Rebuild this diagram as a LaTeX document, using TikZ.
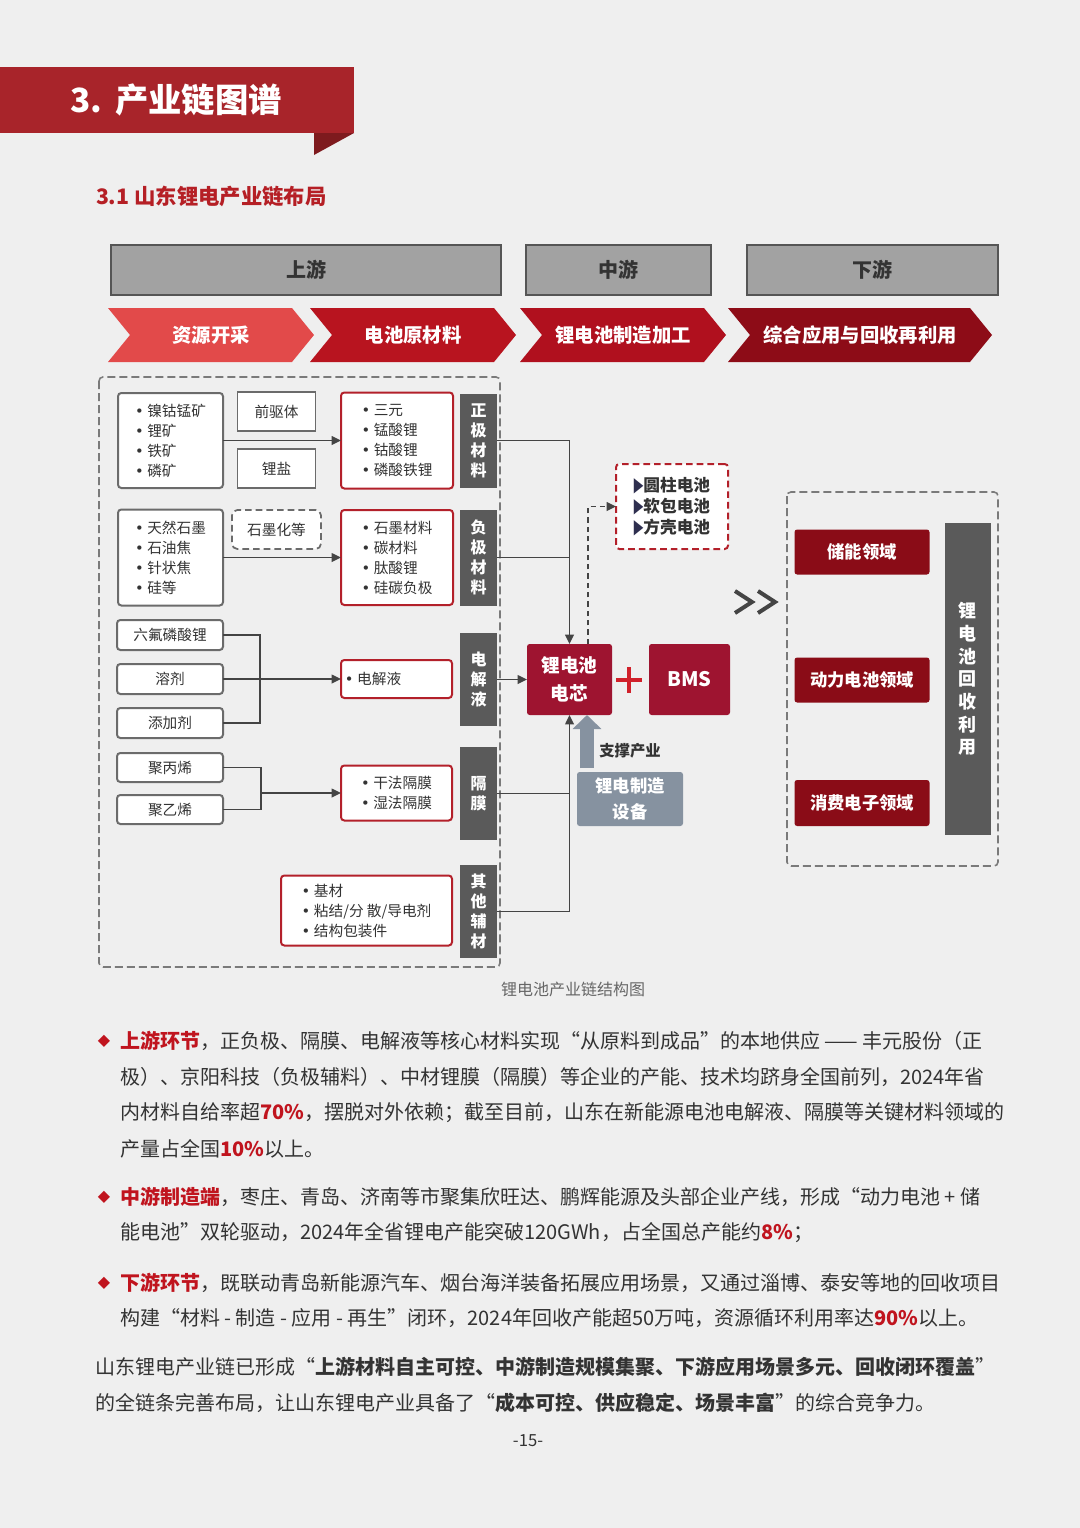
\documentclass[tikz,border=0pt]{standalone}
\usepackage{fontspec}
\setmainfont{Noto Sans CJK SC}
\newfontfamily\symfont{DejaVu Sans}
\usetikzlibrary{arrows.meta}
\definecolor{bg}{HTML}{EFEFEF}
\definecolor{banner}{HTML}{A8242A}
\definecolor{fold}{HTML}{7E1A1E}
\definecolor{subred}{HTML}{B51F25}
\definecolor{hdrfill}{HTML}{A2A2A2}
\definecolor{hdrline}{HTML}{555555}
\definecolor{txt}{HTML}{333333}
\definecolor{ctA}{HTML}{E24A4A}
\definecolor{ctB}{HTML}{B8141F}
\definecolor{ctC}{HTML}{B0101E}
\definecolor{ctD}{HTML}{8D0C17}
\definecolor{boxgrey}{HTML}{6B6B6B}
\definecolor{redline}{HTML}{B3202A}
\definecolor{barg}{HTML}{5A5A5A}
\definecolor{arr}{HTML}{444444}
\definecolor{dgrey}{HTML}{7A7A7A}
\definecolor{crim}{HTML}{9E1430}
\definecolor{appred}{HTML}{8A0C17}
\definecolor{equipc}{HTML}{8692A0}
\definecolor{navy}{HTML}{2E2F4F}
\definecolor{plusred}{HTML}{D0202A}
\definecolor{hl}{HTML}{C0141E}
\newcommand\boxfont{\fontsize{11}{15}\selectfont}
\newcommand\barfont{\fontsize{12}{15}\selectfont\bfseries}
\newcommand\bul{{\symfont •}\hspace{0.25em}}
\newcommand\tri{\textcolor{navy}{\symfont\scalebox{0.75}[1.2]{▶}}}
\newcommand\hlt[1]{\textcolor{hl}{\bfseries #1}}
\newcommand\mychev[5]{%
  \fill[#3] (#1,308) -- ({#2-22},308) -- (#2,335) -- ({#2-22},362) -- (#1,362) -- ({#1+22},335) -- cycle;
  \node[chevtext] (#4) at ({(#1+#2)/2},335) {#5};}
\begin{document}
\begin{tikzpicture}[x=0.75pt,y=-0.75pt,
  every node/.style={inner sep=0pt,outer sep=0pt},
  sz/.style 2 args={minimum width={#1*0.75pt},minimum height={#2*0.75pt}},
  hdr/.style={draw=hdrline,line width=1.5pt,fill=hdrfill,text=txt,font=\fontsize{15}{18}\selectfont\bfseries},
  chevtext/.style={text=white,font=\fontsize{14.5}{18}\selectfont\bfseries},
  gbox/.style={draw=boxgrey,line width=1.5pt,rounded corners=2.5pt,fill=white,font=\boxfont,text=txt,align=left},
  sbox/.style={draw=boxgrey,line width=1pt,fill=white,font=\boxfont,text=txt},
  rbox/.style={draw=redline,line width=1.5pt,rounded corners=2.5pt,fill=white,font=\boxfont,text=txt,align=left},
  gbar/.style={fill=barg,text=white,font=\barfont,align=center},
  conn/.style={draw=arr,line width=1.1pt},
  arrowed/.style={conn,-{Triangle[length=7pt,width=6.5pt]}},
  dashbox/.style={draw=dgrey,line width=1.2pt,dash pattern=on 6pt off 3pt,rounded corners=3pt},
  crimbox/.style={fill=crim,text=white,rounded corners=2pt,align=center,font=\fontsize{14}{21}\selectfont\bfseries},
  appbox/.style={fill=appred,text=white,rounded corners=2pt,font=\fontsize{13}{16}\selectfont\bfseries},
  para/.style={anchor=west,text=txt,font=\fontsize{15}{18}\selectfont},
  diam/.style={text=hl,font=\symfont\fontsize{12}{12}\selectfont}
]
\useasboundingbox (0,0) rectangle (1080,1528);
\fill[bg] (0,0) rectangle (1080,1528);

% title banner
\fill[banner] (0,67) rectangle (354,133);
\fill[fold] (314,133) -- (354,133) -- (314,155) -- cycle;
\node[text=white,font=\fontsize{25}{30}\selectfont\bfseries] (title) at (176,100) {3.\hspace{0.4em}产业链图谱};
\node[anchor=west,text=subred,font=\fontsize{16}{20}\selectfont\bfseries] (sub) at (96,196) {3.1 山东锂电产业链布局};

% stage headers
\node[hdr,sz={390}{50}] (up) at (306,270) {上游};
\node[hdr,sz={185}{50}] (mid) at (618.5,270) {中游};
\node[hdr,sz={251}{50}] (down) at (872.5,270) {下游};

\mychev{108}{314}{ctA}{ch1}{资源开采}
\mychev{310}{516}{ctB}{ch2}{电池原材料}
\mychev{520}{726}{ctC}{ch3}{锂电池制造加工}
\mychev{728}{992}{ctD}{ch4}{综合应用与回收再利用}

% left dashed frame
\draw[dashbox] (99,377) rectangle (500,967);

% row 1
\node[gbox,sz={105}{95}] (ore1) at (170.5,440.5) {\bul 镍钴锰矿\\\bul 锂矿\\\bul 铁矿\\\bul 磷矿};
\node[sbox,sz={78}{39}] (pre) at (276.5,411.5) {前驱体};
\node[sbox,sz={78}{39}] (lis) at (276.5,468.5) {锂盐};
\node[rbox,sz={112}{96}] (red1) at (397,440.5) {\bul 三元\\\bul 锰酸锂\\\bul 钴酸锂\\\bul 磷酸铁锂};
\node[gbar,sz={37}{94}] (bar1) at (478.5,440.5) {正\\极\\材\\料};
\draw[arrowed] (ore1.east) -- (red1.west);

% row 2
\node[gbox,sz={105}{96}] (ore2) at (170.5,557.5) {\bul 天然石墨\\\bul 石油焦\\\bul 针状焦\\\bul 硅等};
\node[sbox,rounded corners=4pt,dash pattern=on 5pt off 3pt,line width=1.3pt,sz={89}{39}] (gra) at (276.5,529.5) {石墨化等};
\node[rbox,sz={112}{95}] (red2) at (397,557.5) {\bul 石墨材料\\\bul 碳材料\\\bul 肽酸锂\\\bul 硅碳负极};
\node[gbar,sz={37}{96}] (bar2) at (478.5,557.5) {负\\极\\材\\料};
\draw[arrowed] (ore2.east) -- (red2.west);

% row 3
\node[gbox,sz={106}{30}] (lip) at (170,635) {六氟磷酸锂};
\node[gbox,sz={106}{30}] (solv) at (170,679) {溶剂};
\node[gbox,sz={106}{30}] (add) at (170,723) {添加剂};
\node[rbox,sz={111}{38}] (ele) at (396.5,679) {\bul 电解液\hspace{3.2em}};
\node[gbar,sz={37}{93}] (bar3) at (478.5,679.5) {电\\解\\液};
\coordinate (j1) at (260,679);
\draw[conn] (lip.east) -| (j1) |- (add.east);
\draw[arrowed] (solv.east) -- (ele.west);

% row 4
\node[gbox,sz={106}{29}] (pp) at (170,767.5) {聚丙烯};
\node[gbox,sz={106}{29}] (pe) at (170,809.5) {聚乙烯};
\node[rbox,sz={111}{55}] (sep) at (396.5,793) {\bul 干法隔膜\\\bul 湿法隔膜};
\node[gbar,sz={37}{93}] (bar4) at (478.5,793.5) {隔\\膜};
\coordinate (j2) at (261,793);
\draw[conn] (pp.east) -| (j2) |- (pe.east);
\draw[arrowed] (j2) -- (sep.west);

% row 5
\node[rbox,sz={171}{70}] (aux) at (366.5,910.5) {\bul 基材\\\bul 粘结/分 散/导电剂\\\bul 结构包装件};
\node[gbar,sz={37}{93}] (bar5) at (478.5,911.5) {其\\他\\辅\\材};

% cell
\node[crimbox,sz={85}{71}] (cell) at (569.5,679.5) {锂电池\\电芯};
\draw[arrowed] (bar1.east) -| (cell.north);
\draw[conn] (bar2.east) -- (bar2.east -| cell.north);
\draw[arrowed] (bar3.east) -- (cell.west);
\draw[conn] (bar4.east) -- (bar4.east -| cell.south);
\draw[arrowed] (bar5.east) -| (cell.south);

% battery types
\node[rbox,dash pattern=on 5pt off 3pt,sz={112}{85},font=\fontsize{12.5}{15.75}\selectfont\bfseries] (types) at (672,506.5) {\tri 圆柱电池\\\tri 软包电池\\\tri 方壳电池};
\draw[conn,dash pattern=on 4pt off 3pt,-{Triangle[length=7pt,width=6.5pt]}] ([xshift=13.9pt]cell.north) |- (types.west);

% plus and BMS
\node[sz={26}{26},path picture={
  \draw[plusred,line width=3pt] (path picture bounding box.west) -- (path picture bounding box.east);
  \draw[plusred,line width=3pt] (path picture bounding box.north) -- (path picture bounding box.south);}] (plus) at (629,680) {};
\node[crimbox,sz={81}{71},font=\fontsize{15}{18}\selectfont\bfseries] (bms) at (689.5,679.5) {BMS};

% support
\node[fill=equipc,text=white,rounded corners=2pt,align=center,sz={106}{54},font=\fontsize{13}{19.5}\selectfont\bfseries] (equip) at (630,799) {锂电制造\\设备};
\coordinate (sa) at (587,768);
\draw[equipc,line width=10.5pt,-{Triangle[length=10.5pt,width=21pt]}] (sa) -- (sa |- cell.south);
\node[text=txt,font=\fontsize{11.5}{14}\selectfont\bfseries] (sup) at (630,751) {支撑产业};

% >>
\coordinate (dbl) at (755,602);
\draw[arr,line width=3pt] (dbl) ++(-20,-11) -- ++(17,11) -- ++(-17,11);
\draw[arr,line width=3pt] (dbl) ++(3,-11) -- ++(17,11) -- ++(-17,11);

% downstream
\draw[dashbox] (787,492) rectangle (998,866);
\node[appbox,sz={135}{45}] (app1) at (862,552) {储能领域};
\node[appbox,sz={135}{45}] (app2) at (862,680) {动力电池领域};
\node[appbox,sz={135}{46}] (app3) at (862,803) {消费电子领域};
\node[fill=barg,text=white,align=center,sz={46}{312},font=\fontsize{13.5}{17}\selectfont\bfseries] (recy) at (967.5,679) {锂\\电\\池\\回\\收\\利\\用};

\node[text=black!60,font=\fontsize{12}{14}\selectfont] (cap) at (573,989) {锂电池产业链结构图};

% paragraphs
\node[diam] (d1) at (104,1041) {◆};
\node[para] (p1a) at (120,1041) {\hlt{上游环节}，正负极、隔膜、电解液等核心材料实现“从原料到成品”的本地供应 —— 丰元股份（正};
\node[para] (p1b) at (120,1077) {极）、京阳科技（负极辅料）、中材锂膜（隔膜）等企业的产能、技术均跻身全国前列，2024年省};
\node[para] (p1c) at (120,1113) {内材料自给率超\hlt{70\%}，摆脱对外依赖；截至目前，山东在新能源电池电解液、隔膜等关键材料领域的};
\node[para] (p1d) at (120,1149) {产量占全国\hlt{10\%}以上。};

\node[diam] (d2) at (104,1197) {◆};
\node[para] (p2a) at (120,1197) {\hlt{中游制造端}，枣庄、青岛、济南等市聚集欣旺达、鹏辉能源及头部企业产线，形成“动力电池 + 储};
\node[para] (p2b) at (120,1233) {能电池”双轮驱动，2024年全省锂电产能突破120GWh，占全国总产能约\hlt{8\%}；};

\node[diam] (d3) at (104,1283) {◆};
\node[para] (p3a) at (120,1283) {\hlt{下游环节}，既联动青岛新能源汽车、烟台海洋装备拓展应用场景，又通过淄博、泰安等地的回收项目};
\node[para] (p3b) at (120,1318) {构建“材料 - 制造 - 应用 - 再生”闭环，2024年回收产能超50万吨，资源循环利用率达\hlt{90\%}以上。};

\node[para] (p4a) at (95,1367) {山东锂电产业链已形成“\textbf{上游材料自主可控、中游制造规模集聚、下游应用场景多元、回收闭环覆盖}”};
\node[para] (p4b) at (95,1403) {的全链条完善布局，让山东锂电产业具备了“\textbf{成本可控、供应稳定、场景丰富}”的综合竞争力。};

\node[text=txt,font=\fontsize{12.5}{15}\selectfont] (pg) at (528,1441) {-15-};
\end{tikzpicture}
\end{document}
